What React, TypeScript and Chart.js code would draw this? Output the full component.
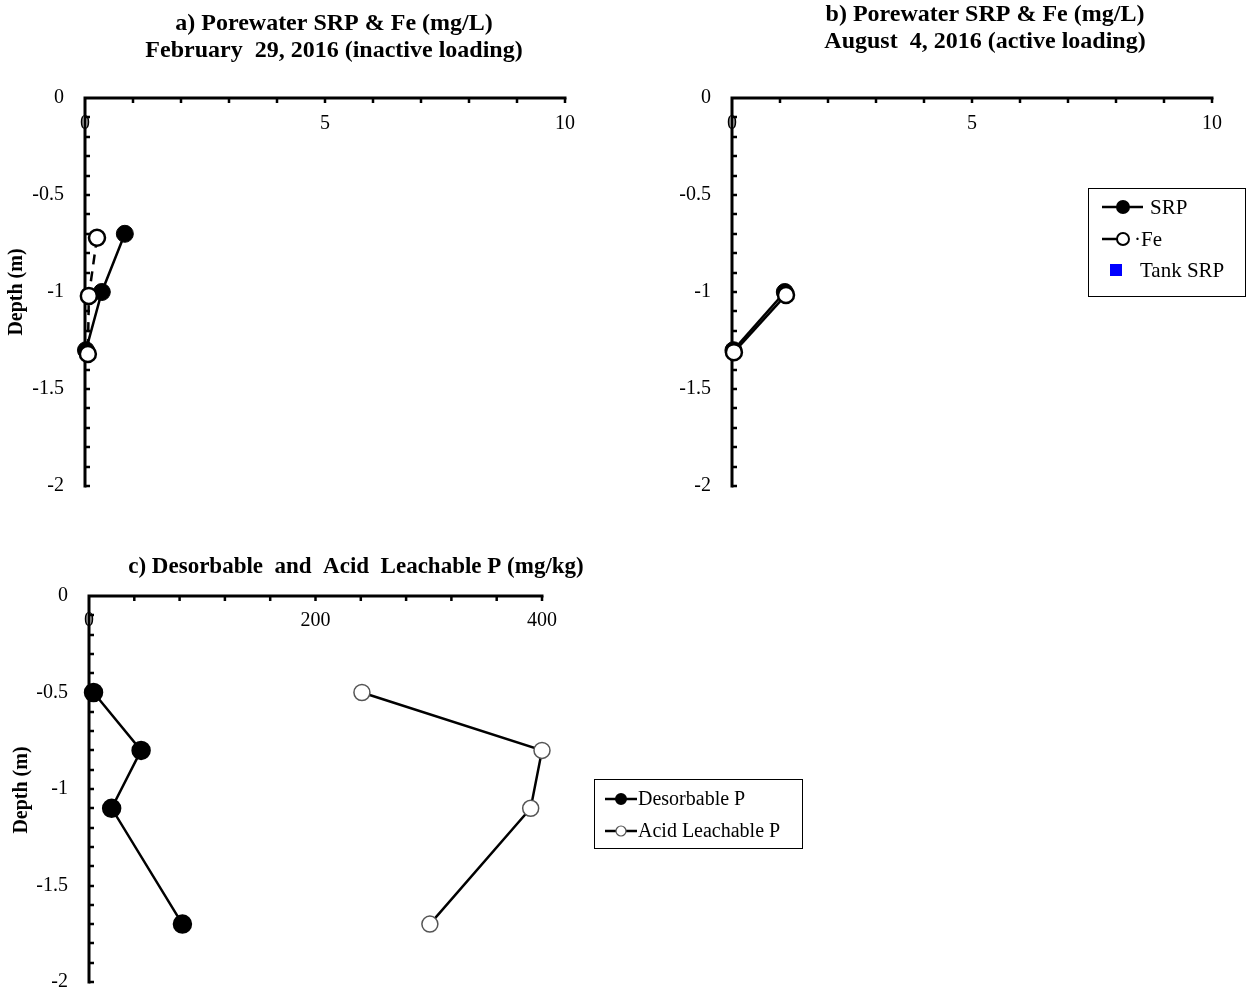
import React, { useEffect, useRef } from "react";
import { Chart, registerables } from "chart.js";

Chart.register(...registerables);

const SERIF = '"Liberation Serif", "Times New Roman", serif';

// a) Porewater, February 29, 2016 (mg/L vs depth in m)
const febSrpConc = [0.83, 0.35, 0.02];
const febSrpDepth = [-0.7, -1.0, -1.3];
const febFeConc = [0.25, 0.08, 0.06];
const febFeDepth = [-0.72, -1.02, -1.32];

// b) Porewater, August 4, 2016
const augSrpConc = [1.1, 0.03];
const augSrpDepth = [-1.0, -1.3];
const augFeConc = [1.125, 0.04];
const augFeDepth = [-1.015, -1.31];
const tankSrpConc: number[] = [];
const tankSrpDepth: number[] = [];

// c) Sediment phosphorus (mg/kg)
const sedimentDepth = [-0.5, -0.8, -1.1, -1.7];
const desorbableP = [4, 46, 20, 82.5];
const acidLeachableP = [241, 400, 390, 301];

// Axis ticks
const depthTickLabels = [0, -0.5, -1, -1.5, -2];
const depthMinorStep = 0.1;
const porewaterTickLabels = [0, 5, 10];
const porewaterMinorStep = 1;
const sedimentTickLabels = [0, 200, 400];
const sedimentMinorStep = 40;

const pts = (xs: number[], ys: number[]) => xs.map((x, i) => ({ x, y: ys[i] }));

type LegendEntry = {
  label: string;
  lineFrom: number;
  lineTo: number;
  marker: "filled" | "open" | "square";
  markerX: number;
  markerR: number;
  markerBorder?: string;
  markerBorderWidth?: number;
  textX: number;
  y: number;
  color?: string;
};

type PanelDecor = {
  titleLines: string[];
  titleX: number;
  titleY: number[];
  titleFont: string;
  yTitle?: { x: number; y: number };
  xLabels: number[];
  xMinorStep: number;
  xLabelOffset: number;
  legend?: { box: [number, number, number, number]; font: string; entries: LegendEntry[] };
};

function decorPlugin(d: PanelDecor) {
  return {
    id: "panelDecor",
    beforeDatasetsDraw(chart: any) {
      const { ctx, scales } = chart;
      const xs = scales.x;
      const ys = scales.y;
      const x0 = xs.getPixelForValue(xs.min);
      const x1 = xs.getPixelForValue(xs.max);
      const yTop = ys.getPixelForValue(ys.max);
      const yBot = ys.getPixelForValue(ys.min);
      ctx.save();
      ctx.strokeStyle = "#000";
      ctx.lineWidth = 3;
      ctx.lineCap = "butt";
      // axis lines
      ctx.beginPath();
      ctx.moveTo(x0 - 1.5, yTop);
      ctx.lineTo(x1 + 1.5, yTop);
      ctx.moveTo(x0, yTop - 1.5);
      ctx.lineTo(x0, yBot + 1.5);
      ctx.stroke();
      // inward minor ticks on x axis
      ctx.lineWidth = 2.5;
      ctx.beginPath();
      for (let v = xs.min + d.xMinorStep; v <= xs.max + 1e-9; v += d.xMinorStep) {
        const px = xs.getPixelForValue(v);
        ctx.moveTo(px, yTop);
        ctx.lineTo(px, yTop + 5);
      }
      // inward minor ticks on y axis
      for (let v = ys.max - depthMinorStep; v >= ys.min - 1e-9; v -= depthMinorStep) {
        const py = Math.round(ys.getPixelForValue(v));
        ctx.moveTo(x0, py);
        ctx.lineTo(x0 + 5, py);
      }
      ctx.stroke();
      // x tick labels, set just below the top axis
      ctx.fillStyle = "#000";
      ctx.font = `20px ${SERIF}`;
      ctx.textAlign = "center";
      ctx.textBaseline = "middle";
      d.xLabels.forEach((v) => {
        ctx.fillText(String(v), xs.getPixelForValue(v), yTop + d.xLabelOffset);
      });
      ctx.restore();
    },
    afterDraw(chart: any) {
      const { ctx } = chart;
      ctx.save();
      ctx.fillStyle = "#000";
      ctx.font = d.titleFont;
      ctx.textAlign = "center";
      ctx.textBaseline = "middle";
      d.titleLines.forEach((t, i) => ctx.fillText(t, d.titleX, d.titleY[i]));
      if (d.yTitle) {
        ctx.save();
        ctx.translate(d.yTitle.x, d.yTitle.y);
        ctx.rotate(-Math.PI / 2);
        ctx.font = `bold 20px ${SERIF}`;
        ctx.fillText("Depth (m)", 0, 0);
        ctx.restore();
      }
      if (d.legend) {
        const [bx, by, bw, bh] = d.legend.box;
        ctx.strokeStyle = "#000";
        ctx.lineWidth = 1;
        ctx.strokeRect(bx + 0.5, by + 0.5, bw, bh);
        ctx.font = d.legend.font;
        ctx.textAlign = "left";
        d.legend.entries.forEach((e) => {
          if (e.lineTo > e.lineFrom) {
            ctx.strokeStyle = "#000";
            ctx.lineWidth = 2.5;
            ctx.beginPath();
            ctx.moveTo(e.lineFrom, e.y);
            ctx.lineTo(e.lineTo, e.y);
            ctx.stroke();
          }
          if (e.marker === "square") {
            ctx.fillStyle = e.color || "#0000ff";
            ctx.fillRect(e.markerX - e.markerR, e.y - e.markerR, e.markerR * 2, e.markerR * 2);
          } else {
            ctx.beginPath();
            ctx.arc(e.markerX, e.y, e.markerR, 0, Math.PI * 2);
            ctx.fillStyle = e.marker === "filled" ? "#000" : "#fff";
            ctx.fill();
            ctx.strokeStyle = e.markerBorder || "#000";
            ctx.lineWidth = e.markerBorderWidth || 2;
            ctx.stroke();
          }
          ctx.fillStyle = "#000";
          ctx.fillText(e.label, e.textX, e.y + 1);
        });
      }
      ctx.restore();
    },
  };
}

function depthScale(yAxisWidth: number) {
  return {
    type: "linear",
    min: -2,
    max: 0,
    afterBuildTicks: (s: any) => {
      s.ticks = depthTickLabels.map((v) => ({ value: v }));
    },
    afterFit: (s: any) => {
      s.width = yAxisWidth;
      s.paddingTop = 0;
      s.paddingBottom = 0;
    },
    grid: { display: false },
    border: { display: false },
    ticks: {
      color: "#000",
      font: { family: SERIF, size: 20 },
      padding: 13,
      callback: (v: number) => String(v),
    },
  };
}

function concScale(max: number) {
  return { type: "linear", min: 0, max, display: false };
}

type PanelProps = {
  left: number;
  top: number;
  width: number;
  height: number;
  padding: { left: number; top: number; right: number; bottom: number };
  xMax: number;
  datasets: any[];
  decor: PanelDecor;
};

function Panel(p: PanelProps) {
  const ref = useRef<HTMLCanvasElement | null>(null);
  useEffect(() => {
    if (!ref.current) return;
    const chart = new Chart(ref.current, {
      type: "scatter",
      data: { datasets: p.datasets },
      options: {
        responsive: false,
        animation: false,
        devicePixelRatio: 1,
        layout: { padding: p.padding },
        plugins: { legend: { display: false }, tooltip: { enabled: false }, title: { display: false } },
        scales: { x: concScale(p.xMax) as any, y: depthScale(60) as any },
      },
      plugins: [decorPlugin(p.decor)],
    } as any);
    return () => chart.destroy();
  }, []);
  return (
    <canvas
      ref={ref}
      width={p.width}
      height={p.height}
      style={{ position: "absolute", left: p.left, top: p.top, width: p.width, height: p.height }}
    />
  );
}

const srpStyle = {
  showLine: true,
  borderColor: "#000",
  borderWidth: 2.5,
  pointBackgroundColor: "#000",
  pointBorderColor: "#000",
  pointBorderWidth: 1,
  pointRadius: 8.5,
  clip: false,
  order: 2,
};
const feStyle = {
  showLine: true,
  borderColor: "#000",
  borderWidth: 2.5,
  borderDash: [10, 7],
  pointBackgroundColor: "#fff",
  pointBorderColor: "#000",
  pointBorderWidth: 2.5,
  pointRadius: 8,
  clip: false,
  order: 1,
};

const titleFont = `bold 24px ${SERIF}`;

export default function App() {
  const febDatasets = [
    { label: "SRP", data: pts(febSrpConc, febSrpDepth), ...srpStyle },
    { label: "·Fe", data: pts(febFeConc, febFeDepth), ...feStyle },
  ];
  const augDatasets = [
    { label: "SRP", data: pts(augSrpConc, augSrpDepth), ...srpStyle },
    { label: "·Fe", data: pts(augFeConc, augFeDepth), ...feStyle, borderDash: [] },
    {
      label: "Tank SRP",
      data: pts(tankSrpConc, tankSrpDepth),
      showLine: false,
      pointStyle: "rect",
      pointBackgroundColor: "#0000ff",
      pointBorderColor: "#0000ff",
      pointRadius: 6,
      clip: false,
    },
  ];
  const sedDatasets = [
    {
      label: "Desorbable P",
      data: pts(desorbableP, sedimentDepth),
      showLine: true,
      borderColor: "#000",
      borderWidth: 2.5,
      pointBackgroundColor: "#000",
      pointBorderColor: "#000",
      pointRadius: 8.5,
      clip: false,
    },
    {
      label: "Acid Leachable P",
      data: pts(acidLeachableP, sedimentDepth),
      showLine: true,
      borderColor: "#000",
      borderWidth: 2.5,
      pointBackgroundColor: "#fff",
      pointBorderColor: "#555",
      pointBorderWidth: 1.5,
      pointRadius: 8,
      clip: false,
    },
  ];

  return (
    <div style={{ position: "absolute", left: 0, top: 0, width: 1247, height: 993, background: "#fff" }}>
      <Panel
        left={0}
        top={0}
        width={630}
        height={510}
        padding={{ left: 25, top: 98, right: 65, bottom: 24 }}
        xMax={10}
        datasets={febDatasets}
        decor={{
          titleLines: ["a) Porewater SRP & Fe (mg/L)", "February  29, 2016 (inactive loading)"],
          titleX: 334,
          titleY: [24, 51],
          titleFont,
          yTitle: { x: 17, y: 292 },
          xLabels: porewaterTickLabels,
          xMinorStep: porewaterMinorStep,
          xLabelOffset: 26,
        }}
      />
      <Panel
        left={640}
        top={0}
        width={607}
        height={510}
        padding={{ left: 32, top: 98, right: 35, bottom: 24 }}
        xMax={10}
        datasets={augDatasets}
        decor={{
          titleLines: ["b) Porewater SRP & Fe (mg/L)", "August  4, 2016 (active loading)"],
          titleX: 345,
          titleY: [15, 42],
          titleFont,
          xLabels: porewaterTickLabels,
          xMinorStep: porewaterMinorStep,
          xLabelOffset: 26,
          legend: {
            box: [448, 188, 157, 108],
            font: `21px ${SERIF}`,
            entries: [
              { label: "SRP", lineFrom: 462, lineTo: 503, marker: "filled", markerX: 483, markerR: 6, textX: 510, y: 207 },
              { label: "·Fe", lineFrom: 462, lineTo: 478, marker: "open", markerX: 483, markerR: 6, textX: 494, y: 239 },
              { label: "Tank SRP", lineFrom: 0, lineTo: 0, marker: "square", markerX: 476, markerR: 6, textX: 500, y: 270, color: "#0000ff" },
            ],
          },
        }}
      />
      <Panel
        left={0}
        top={510}
        width={830}
        height={483}
        padding={{ left: 29, top: 86, right: 288, bottom: 9 }}
        xMax={400}
        datasets={sedDatasets}
        decor={{
          titleLines: ["c) Desorbable  and  Acid  Leachable P (mg/kg)"],
          titleX: 356,
          titleY: [57],
          titleFont: `bold 23px ${SERIF}`,
          yTitle: { x: 22, y: 280 },
          xLabels: sedimentTickLabels,
          xMinorStep: sedimentMinorStep,
          xLabelOffset: 25,
          legend: {
            box: [594, 269, 208, 69],
            font: `20px ${SERIF}`,
            entries: [
              { label: "Desorbable P", lineFrom: 605, lineTo: 637, marker: "filled", markerX: 621, markerR: 5, textX: 638, y: 289 },
              { label: "Acid Leachable P", lineFrom: 605, lineTo: 637, marker: "open", markerX: 621, markerR: 5, markerBorder: "#555", markerBorderWidth: 1.2, textX: 638, y: 321 },
            ],
          },
        }}
      />
    </div>
  );
}
